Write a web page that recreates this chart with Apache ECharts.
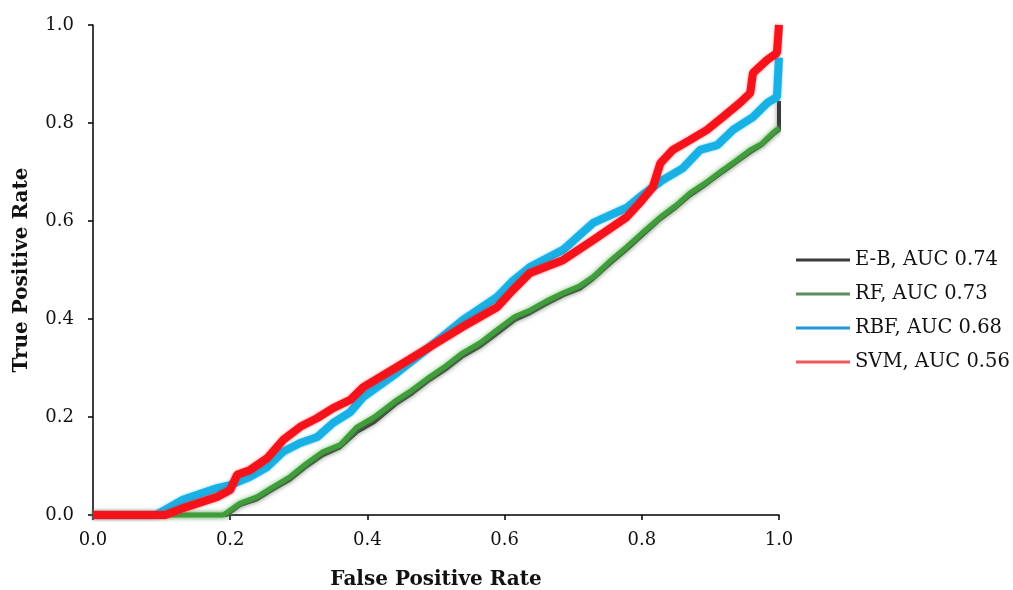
<!DOCTYPE html>
<html>
<head>
<meta charset="utf-8">
<script src="https://cdn.jsdelivr.net/npm/echarts@6/dist/echarts.min.js"></script>
<style>
  html, body { margin: 0; padding: 0; background: #fff; }
  #roc { width: 1013px; height: 590px; }
</style>
</head>
<body>
<div id="roc"></div>
<script>
// ROC curves (false positive rate, true positive rate)
var ebFpr = [0, 0.17, 0.195, 0.214, 0.239, 0.262, 0.287, 0.312, 0.335, 0.36, 0.385, 0.41, 0.443, 0.465, 0.491, 0.515, 0.539, 0.565, 0.589, 0.615, 0.637, 0.66, 0.685, 0.71, 0.729, 0.755, 0.778, 0.8, 0.827, 0.85, 0.87, 0.895, 0.918, 0.94, 0.958, 0.975, 0.991, 1.0, 1.0]
var ebTpr = [0, 0, 0, 0.02, 0.032, 0.052, 0.072, 0.1, 0.122, 0.138, 0.17, 0.19, 0.228, 0.248, 0.276, 0.298, 0.324, 0.345, 0.37, 0.398, 0.412, 0.43, 0.448, 0.462, 0.482, 0.515, 0.542, 0.57, 0.604, 0.628, 0.652, 0.676, 0.7, 0.722, 0.74, 0.755, 0.776, 0.786, 0.845]

var rfFpr = [0, 0.19, 0.214, 0.239, 0.262, 0.287, 0.312, 0.335, 0.36, 0.385, 0.41, 0.443, 0.465, 0.491, 0.515, 0.539, 0.565, 0.589, 0.615, 0.637, 0.66, 0.685, 0.71, 0.729, 0.755, 0.778, 0.8, 0.827, 0.85, 0.87, 0.895, 0.918, 0.94, 0.958, 0.975, 0.991, 1.0]
var rfTpr = [0, 0, 0.024, 0.037, 0.057, 0.078, 0.106, 0.129, 0.143, 0.18, 0.2, 0.235, 0.255, 0.282, 0.305, 0.331, 0.352, 0.378, 0.405, 0.418, 0.436, 0.453, 0.468, 0.486, 0.52, 0.547, 0.575, 0.608, 0.632, 0.657, 0.68, 0.704, 0.726, 0.745, 0.758, 0.78, 0.79]

var rbfFpr = [0, 0.092, 0.131, 0.181, 0.2, 0.229, 0.254, 0.277, 0.302, 0.327, 0.35, 0.375, 0.394, 0.443, 0.491, 0.539, 0.589, 0.612, 0.637, 0.685, 0.729, 0.778, 0.797, 0.831, 0.86, 0.885, 0.91, 0.933, 0.962, 0.983, 0.997, 1.0]
var rbfTpr = [0, 0, 0.031, 0.055, 0.061, 0.078, 0.098, 0.129, 0.147, 0.159, 0.188, 0.21, 0.241, 0.29, 0.343, 0.398, 0.445, 0.478, 0.506, 0.541, 0.596, 0.627, 0.649, 0.684, 0.708, 0.745, 0.755, 0.786, 0.812, 0.841, 0.853, 0.933]

var svmFpr = [0, 0.105, 0.131, 0.181, 0.2, 0.21, 0.229, 0.254, 0.277, 0.302, 0.327, 0.35, 0.375, 0.394, 0.443, 0.491, 0.539, 0.589, 0.612, 0.637, 0.685, 0.729, 0.778, 0.797, 0.816, 0.827, 0.845, 0.87, 0.895, 0.918, 0.943, 0.958, 0.962, 0.983, 0.997, 1.0]
var svmTpr = [0, 0, 0.014, 0.037, 0.051, 0.082, 0.092, 0.116, 0.153, 0.18, 0.198, 0.218, 0.235, 0.261, 0.302, 0.343, 0.384, 0.424, 0.459, 0.494, 0.52, 0.561, 0.608, 0.637, 0.669, 0.718, 0.745, 0.765, 0.786, 0.812, 0.841, 0.861, 0.902, 0.929, 0.943, 1.0]

var seriesNames = ['E-B, AUC 0.74', 'RF, AUC 0.73', 'RBF, AUC 0.68', 'SVM, AUC 0.56']
var xTicks = [0, 0.2, 0.4, 0.6, 0.8, 1.0]
var yTicks = [0, 0.2, 0.4, 0.6, 0.8, 1.0]

function pairs (xs, ys) {
  var out = []
  for (var i = 0; i < xs.length; i++) {
    out.push([xs[i], ys[i]])
  }
  return out
}

var serifFont = 'DejaVu Serif'

var chart = echarts.init(document.getElementById('roc'))
var option = {
  animation: false,
  backgroundColor: '#fff',
  grid: { left: 93, right: 234, top: 25, bottom: 75, containLabel: false, outerBoundsMode: 'none' },
  legend: {
    orient: 'vertical',
    left: 796,
    top: 250,
    padding: 0,
    icon: 'rect',
    itemWidth: 54,
    itemHeight: 3,
    itemGap: 14,
    textStyle: { fontFamily: serifFont, fontSize: 19.5, color: '#111' },
    data: [
      { name: seriesNames[0], itemStyle: { color: '#3b3b3b' } },
      { name: seriesNames[1], itemStyle: { color: '#5e8c5a' } },
      { name: seriesNames[2], itemStyle: { color: '#1f96d8' } },
      { name: seriesNames[3], itemStyle: { color: '#f0585a' } }
    ]
  },
  xAxis: {
    type: 'value',
    min: 0,
    max: 1,
    interval: 0.2,
    name: 'False Positive Rate',
    nameLocation: 'middle',
    nameGap: 55,
    nameTextStyle: { fontFamily: serifFont, fontSize: 20, fontWeight: 'bold', color: '#111' },
    axisLine: { show: true, lineStyle: { color: '#000', width: 1.5 } },
    axisTick: { show: true, length: 5, lineStyle: { color: '#000', width: 1.5 } },
    axisLabel: {
      margin: 16,
      fontFamily: serifFont,
      fontSize: 18,
      color: '#111',
      formatter: function (v) { return xTicks.indexOf(v) >= 0 ? v.toFixed(1) : '' }
    },
    splitLine: { show: false }
  },
  yAxis: {
    type: 'value',
    min: 0,
    max: 1,
    interval: 0.2,
    name: 'True Positive Rate',
    nameLocation: 'middle',
    nameGap: 61,
    nameTextStyle: { fontFamily: serifFont, fontSize: 20, fontWeight: 'bold', color: '#111' },
    axisLine: { show: true, lineStyle: { color: '#000', width: 1.5 } },
    axisTick: { show: true, length: 5, lineStyle: { color: '#000', width: 1.5 } },
    axisLabel: {
      margin: 19,
      fontFamily: serifFont,
      fontSize: 18,
      color: '#111',
      formatter: function (v) { return yTicks.indexOf(v) >= 0 ? v.toFixed(1) : '' }
    },
    splitLine: { show: false }
  },
  series: [
    {
      name: seriesNames[0],
      type: 'line',
      data: pairs(ebFpr, ebTpr),
      showSymbol: false,
      clip: false,
      z: 2,
      lineStyle: { color: '#3a3a3a', width: 4, shadowBlur: 5, shadowColor: 'rgba(90,90,90,0.7)' }
    },
    {
      name: seriesNames[1],
      type: 'line',
      data: pairs(rfFpr, rfTpr),
      showSymbol: false,
      clip: false,
      z: 3,
      lineStyle: { color: '#3f9d3a', width: 5, shadowBlur: 5, shadowColor: 'rgba(110,200,100,0.8)' }
    },
    {
      name: seriesNames[2],
      type: 'line',
      data: pairs(rbfFpr, rbfTpr),
      showSymbol: false,
      clip: false,
      z: 4,
      lineStyle: { color: '#17b1e6', width: 8, shadowBlur: 3, shadowColor: 'rgba(23,177,230,0.6)' }
    },
    {
      name: seriesNames[3],
      type: 'line',
      data: pairs(svmFpr, svmTpr),
      showSymbol: false,
      clip: false,
      z: 5,
      lineStyle: { color: '#f5121a', width: 8, shadowBlur: 3, shadowColor: 'rgba(245,18,26,0.6)' }
    }
  ]
}
chart.setOption(option)
</script>
</body>
</html>
